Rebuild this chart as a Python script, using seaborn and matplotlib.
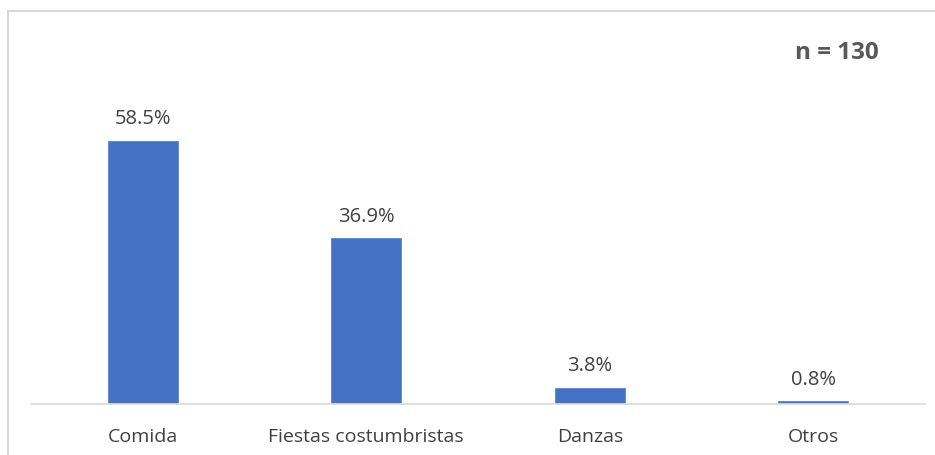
import matplotlib
matplotlib.use("Agg")
import matplotlib.pyplot as plt
import seaborn as sns
import pandas as pd
from matplotlib.patches import Rectangle

# datos del grafico
categorias = ["Comida", "Fiestas costumbristas", "Danzas", "Otros"]
porcentajes = [58.5, 36.9, 3.8, 0.8]
etiquetas = ["58.5%", "36.9%", "3.8%", "0.8%"]

df = pd.DataFrame({"categoria": categorias, "pct": porcentajes})

sns.set_theme(style="white")
plt.rcParams["font.family"] = ["Open Sans", "DejaVu Sans"]

W, H = 935, 455
fig = plt.figure(figsize=(W / 100, H / 100), dpi=100)
ax = fig.add_axes([31 / W, (H - 404) / H, (925 - 31) / W, (404 - 40) / H])

sns.barplot(data=df, x="categoria", y="pct", color="#4472C4", width=0.32,
            saturation=1, ax=ax)

ax.set_xlim(-0.5, 3.5)
ax.set_ylim(0, (404 - 40) / (264 / 58.5))

for i, (v, t) in enumerate(zip(porcentajes, etiquetas)):
    ax.text(i, v + 2.4, t, ha="center", va="bottom", fontsize=14.5, color="#404040")

ax.set_xlabel("")
ax.set_ylabel("")
ax.set_yticks([])
ax.tick_params(axis="x", length=0, labelsize=14, labelcolor="#404040", pad=17)
for s in ["top", "right", "left"]:
    ax.spines[s].set_visible(False)
ax.spines["bottom"].set_color("#d9d9d9")
ax.spines["bottom"].set_linewidth(1.2)

fig.text(837 / W, 1 - 53 / H, "n = 130", ha="center", va="center",
         fontsize=17.5, fontweight="bold", color="#595959")

# borde del area del grafico (recortado a la derecha y abajo)
fig.patches.append(Rectangle((8 / W, -0.2), 1.5, 1 - 11 / H + 0.2,
                             transform=fig.transFigure, fill=False,
                             edgecolor="#d9d9d9", linewidth=1.5))

fig.savefig("out.png", dpi=100)
